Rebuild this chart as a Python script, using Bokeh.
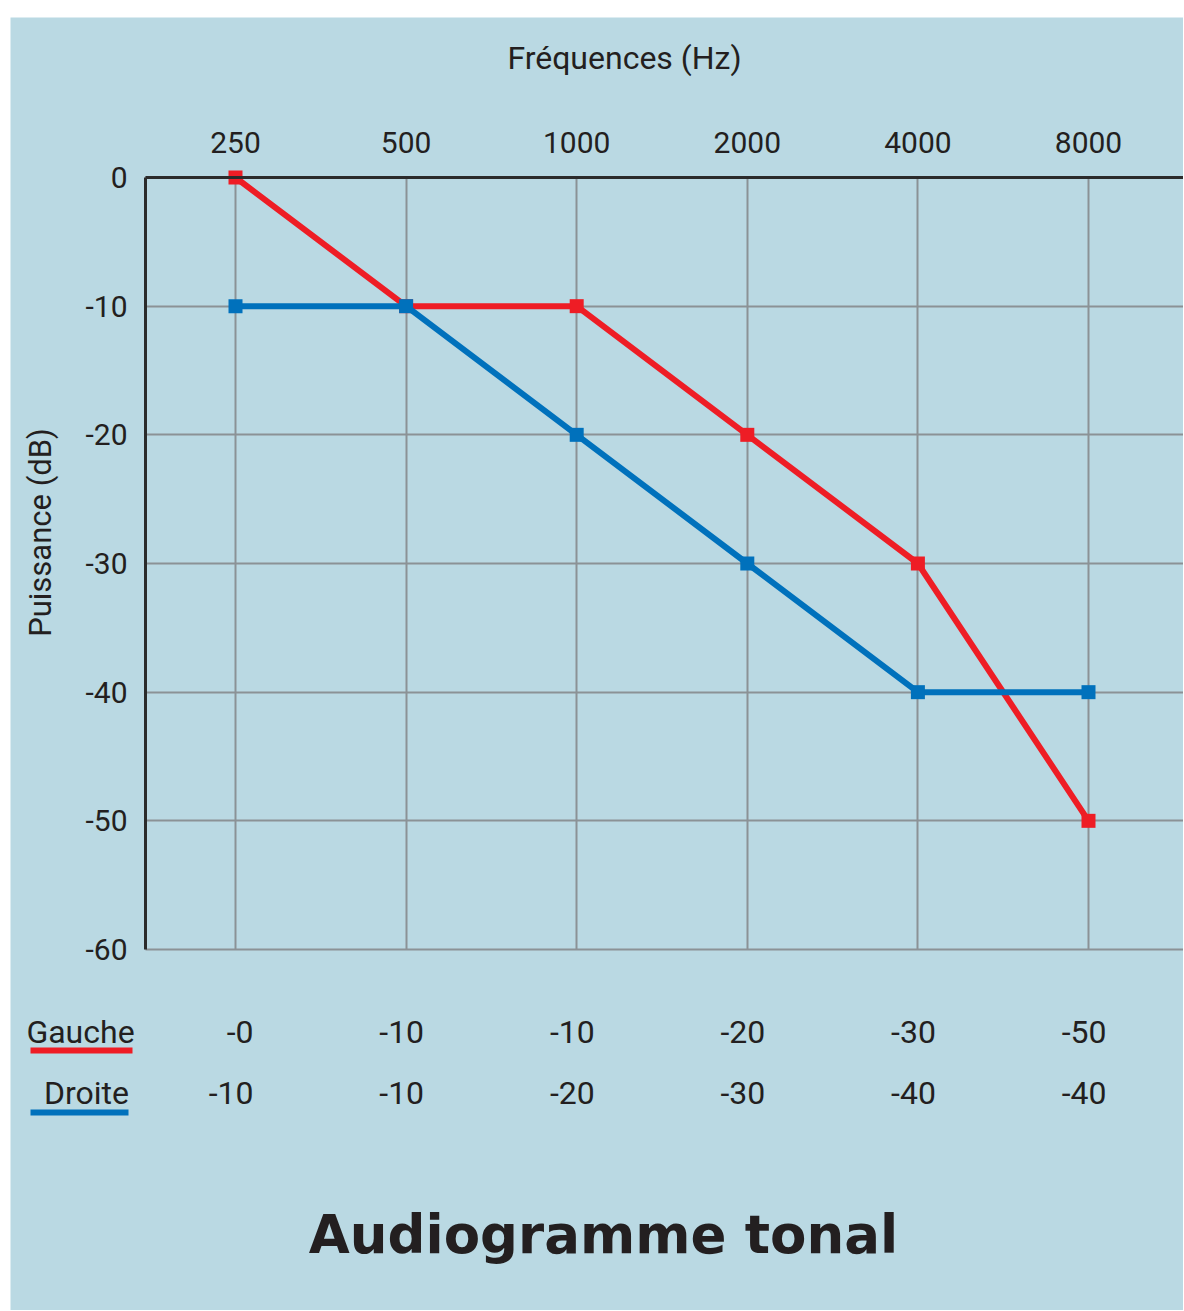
import numpy as np
from bokeh.plotting import figure
from bokeh.models import Range1d, FixedTicker, Grid
from bokeh.core.properties import value
from bokeh.embed import file_html
from bokeh.resources import INLINE

# ---------------- data ----------------
frequencies = ["250", "500", "1000", "2000", "4000", "8000"]
gauche = [0, -10, -10, -20, -30, -50]
droite = [-10, -10, -20, -30, -40, -40]
y_ticks = [0, -10, -20, -30, -40, -50, -60]
row_names = ["Gauche", "Droite"]

# ---------------- style ----------------
BG = "#bad9e3"
RED = "#ee1d25"
BLUE = "#0071bc"
TXT = "#231f20"
AXIS = "#2b2b2b"
GRID = "#8b9296"
FONT = "Roboto"

# ---------------- layout (page pixels) ----------------
FIG_LEFT, FIG_TOP = 10, 17
FIG_W, FIG_H = 1173, 1293
FIG_RIGHT, FIG_BOTTOM = FIG_LEFT + FIG_W, FIG_TOP + FIG_H
FRAME_L, FRAME_T, FRAME_B = 145, 177, 949
FIRST_X, LAST_X = 235, 1088
idx = list(range(len(frequencies)))
step = (LAST_X - FIRST_X) / (len(frequencies) - 1)
ypx = (FRAME_B - FRAME_T) / 60.0


def xd(px):
    return (px - FIRST_X) / step


def yd(py):
    return -(py - FRAME_T) / ypx


p = figure(width=FIG_W, height=FIG_H,
           x_range=Range1d(xd(FIG_LEFT), xd(FIG_RIGHT)),
           y_range=Range1d(yd(FIG_BOTTOM), yd(FIG_TOP)),
           x_axis_location="above",
           output_backend="svg", toolbar_location=None, min_border=0)
p.margin = (FIG_TOP, 0, 0, FIG_LEFT)
p.background_fill_color = BG
p.border_fill_color = BG
p.outline_line_color = None

xa = p.xaxis[0]
xa.ticker = FixedTicker(ticks=idx)
xa.major_label_overrides = {i: f for i, f in zip(idx, frequencies)}
xa.fixed_location = 0
xa.bounds = (xd(FRAME_L), xd(FIG_RIGHT))
ya = p.yaxis[0]
ya.ticker = FixedTicker(ticks=y_ticks)
ya.major_label_overrides = {t: str(t) for t in y_ticks}
ya.fixed_location = xd(FRAME_L)
ya.bounds = (min(y_ticks), max(y_ticks))
for ax in (xa, ya):
    ax.major_tick_out = 0
    ax.major_tick_in = 0
    ax.minor_tick_out = 0
    ax.minor_tick_in = 0
    ax.axis_line_color = AXIS
    ax.axis_line_width = 3
    ax.major_label_text_font = FONT
    ax.major_label_text_font_size = "30px"
    ax.major_label_text_color = TXT
xa.major_label_standoff = 25
ya.major_label_standoff = 18

p.grid.grid_line_color = GRID
p.grid.grid_line_width = 2
if "cross_bounds" in Grid.properties():
    p.xgrid.cross_bounds = (min(y_ticks), max(y_ticks))
    p.ygrid.cross_bounds = (xd(FRAME_L), xd(FIG_RIGHT))
else:
    p.grid.visible = False
    p.segment(x0=idx, x1=idx, y0=[min(y_ticks)] * len(idx), y1=[max(y_ticks)] * len(idx),
              line_color=GRID, line_width=2)
    p.segment(x0=[xd(FRAME_L)] * len(y_ticks), x1=[xd(FIG_RIGHT)] * len(y_ticks),
              y0=y_ticks, y1=y_ticks, line_color=GRID, line_width=2)

p.line(idx, gauche, line_color=RED, line_width=6)
p.scatter(idx, gauche, marker="square", size=14, fill_color=RED, line_color=None)
p.line(idx, droite, line_color=BLUE, line_width=6)
p.scatter(idx, droite, marker="square", size=14, fill_color=BLUE, line_color=None)

# axis titles
p.text(x=[xd(624)], y=[yd(57)], text=["Fréquences (Hz)"], text_align="center",
       text_baseline="middle", text_font=value(FONT),
       text_font_size=value("32px"), text_color=TXT)
p.text(x=[xd(40)], y=[yd(532)], text=["Puissance (dB)"], angle=np.pi / 2,
       text_align="center", text_baseline="middle", text_font=value(FONT),
       text_font_size=value("31px"), text_color=TXT)

# ---------------- table ----------------
row_mid = [1031, 1092]
row_vals = [gauche, droite]
row_colors = [RED, BLUE]
row_label_x = [80, 86]
row_line = [(30, 132, 1050), (30, 128, 1112)]

for name, mid, vals, col, lx, (u0, u1, uy) in zip(row_names, row_mid, row_vals,
                                                  row_colors, row_label_x, row_line):
    p.text(x=idx, y=[yd(mid)] * len(idx), text=[f"-{abs(v)}" for v in vals],
           text_align="right", x_offset=18, text_baseline="middle",
           text_font=value(FONT), text_font_size=value("32px"), text_color=TXT)
    p.text(x=[xd(lx)], y=[yd(mid)], text=[name], text_align="center",
           text_baseline="middle", text_font=value(FONT),
           text_font_size=value("32px"), text_color=TXT)
    p.segment(x0=[xd(u0)], x1=[xd(u1)], y0=[yd(uy)], y1=[yd(uy)],
              line_color=col, line_width=6)

p.text(x=[xd(603)], y=[yd(1234)], text=["Audiogramme tonal"],
       text_align="center", text_baseline="middle",
       text_font=value("DejaVu Sans"), text_font_style="bold",
       text_font_size=value("53px"), text_color=TXT)

open("out.html", "w").write(file_html(p, INLINE))
